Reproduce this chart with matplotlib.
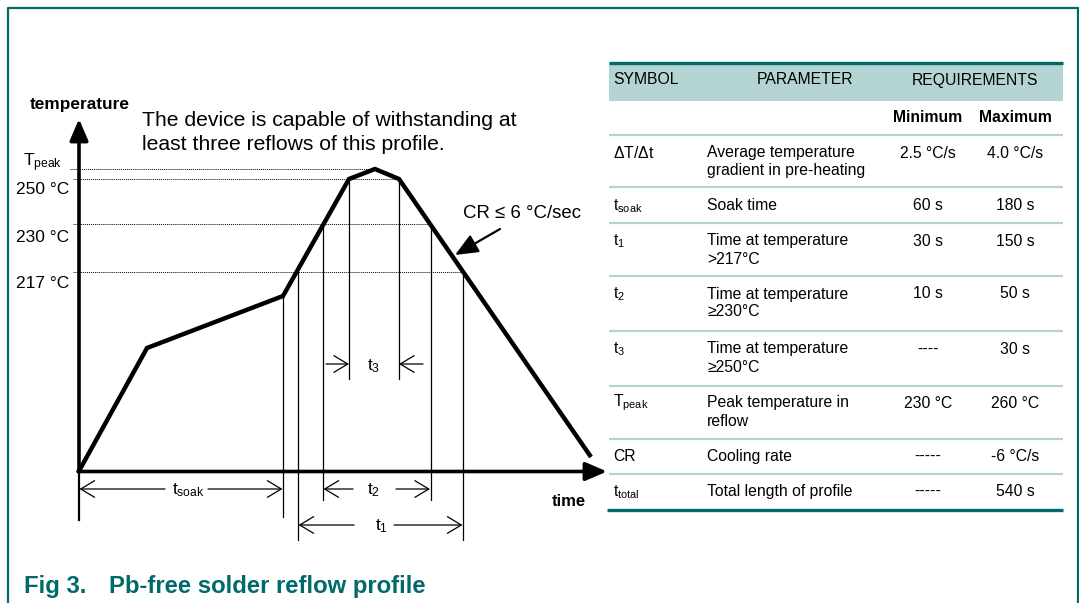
import matplotlib
matplotlib.use('Agg')
import matplotlib.pyplot as plt

plt.rcParams['font.family'] = ['Liberation Sans', 'DejaVu Sans']
plt.rcParams['mathtext.fontset'] = 'custom'
plt.rcParams['mathtext.rm'] = 'Liberation Sans'
plt.rcParams['mathtext.it'] = 'Liberation Sans'
plt.rcParams['mathtext.bf'] = 'Liberation Sans:bold'

# schematic reflow profile (diagram units, y grows downwards)
profile_x = [79, 147, 283, 349, 375, 399, 591]
profile_y = [471, 348, 296, 179, 169, 179, 457]

# temperature levels on the vertical axis
level_labels = [r'$T_{peak}$', '250 °C', '230 °C', '217 °C']
level_y = [169, 179, 224, 271.5]
level_end_x = [375, 399, 430.5, 463]
level_label_y = [163, 190, 237, 283]

# vertical marker lines: (x, top, bottom)
marker_x = [283, 298, 323, 349, 399, 430.5, 463]
marker_top = [296, 271.5, 224, 179, 179, 224, 271.5]
marker_bottom = [517, 540, 500, 379, 379, 500, 540]

# table content
table_symbols = [r'$\Delta$T/$\Delta$t', r'$t_{soak}$', r'$t_{1}$', r'$t_{2}$',
                 r'$t_{3}$', r'$T_{peak}$', 'CR', r'$t_{total}$']
table_params = ['Average temperature\ngradient in pre-heating', 'Soak time',
                'Time at temperature\n>217°C', 'Time at temperature\n≥230°C',
                'Time at temperature\n≥250°C', 'Peak temperature in\nreflow',
                'Cooling rate', 'Total length of profile']
table_min = ['2.5 °C/s', '60 s', '30 s', '10 s', '----', '230 °C', '-----', '-----']
table_max = ['4.0 °C/s', '180 s', '150 s', '50 s', '30 s', '260 °C', '-6 °C/s', '540 s']
row_y = [153, 206, 241, 294, 349, 403, 456.7, 491.7]
sep_y = [135, 187.3, 222.7, 276, 331, 385.7, 439, 474]

teal = '#006a6a'
light = '#b4d3d3'

fig = plt.figure(figsize=(10.79, 6.03), dpi=100)
ax = fig.add_axes([0, 0, 1, 1])
ax.set_xlim(0, 1079)
ax.set_ylim(603, 0)
ax.axis('off')

# frame
ax.plot([8, 8, 1077.5, 1077.5], [603, 8, 8, 603], color=teal, lw=1.6)

# axes arrows
axis_arrow = dict(arrowstyle='-|>,head_length=0.65,head_width=0.28', lw=2.6,
                  color='black', shrinkA=0, shrinkB=0, mutation_scale=20)
ax.annotate('', xy=(79, 119), xytext=(79, 472), arrowprops=axis_arrow)
ax.annotate('', xy=(607, 471.5), xytext=(78, 471.5), arrowprops=axis_arrow)
ax.plot([79, 79], [472, 520], color='black', lw=1.6)

# dotted level lines and labels
for lab, y, xe, ly in zip(level_labels, level_y, level_end_x, level_label_y):
    ax.plot([70 if y < 170 else 73, xe], [y, y], color='black', lw=0.7, ls=(0, (1, 1)))
    ax.text(69 if 'C' in lab else 62, ly, lab, fontsize=12.5, ha='right', va='center')

# marker lines
for x, t, b in zip(marker_x, marker_top, marker_bottom):
    ax.plot([x, x], [t, b], color='black', lw=0.9)

# profile
ax.plot(profile_x, profile_y, color='black', lw=3.2, solid_joinstyle='miter',
        solid_capstyle='butt')

# dimension arrows
dim = dict(arrowstyle='->,head_length=0.5,head_width=0.3', lw=0.9, color='black',
           shrinkA=0, shrinkB=0, mutation_scale=20)


def dimension(y, x0, x1, g0, g1, label, lx):
    ax.annotate('', xy=(x0, y), xytext=(g0, y), arrowprops=dim)
    ax.annotate('', xy=(x1, y), xytext=(g1, y), arrowprops=dim)
    ax.text(lx, y + 1, label, fontsize=12.5, ha='center', va='center')


dimension(489, 79.5, 282.5, 165, 208, r'$t_{soak}$', 188)
dimension(489, 323.5, 430, 353, 396, r'$t_{2}$', 373)
dimension(525, 298.5, 462.5, 354, 394, r'$t_{1}$', 381)
ax.annotate('', xy=(349, 364), xytext=(326, 364), arrowprops=dim)
ax.annotate('', xy=(399, 364), xytext=(423, 364), arrowprops=dim)
ax.text(374, 366, r'$t_{3}$', fontsize=12.5, ha='center', va='center')

# axis labels and notes
ax.text(30, 104, 'temperature', fontsize=12.4, fontweight='bold', ha='left', va='center')
ax.text(552, 502, 'time', fontsize=12, fontweight='bold', ha='left', va='center')
ax.text(142, 120, 'The device is capable of withstanding at', fontsize=15.2, ha='left', va='center')
ax.text(142, 144, 'least three reflows of this profile.', fontsize=15.2, ha='left', va='center')
ax.text(463, 214, 'CR ≤ 6 °C/sec', fontsize=13.4, ha='left', va='center')
ax.annotate('', xy=(455, 255), xytext=(500, 229),
            arrowprops=dict(arrowstyle='-|>,head_length=0.7,head_width=0.3', lw=1.6,
                            color='black', shrinkA=0, shrinkB=0, mutation_scale=20))

# caption
ax.text(24, 587, 'Fig 3.', fontsize=17.2, fontweight='bold', color=teal, ha='left', va='center')
ax.text(109, 587, 'Pb-free solder reflow profile', fontsize=17.2, fontweight='bold',
        color=teal, ha='left', va='center')

# table
ax.fill_between([609, 1063], 62.7, 100.7, color=light, lw=0)
ax.plot([609, 1063], [62.7, 62.7], color=teal, lw=2.4, solid_capstyle='butt')
ax.plot([607, 1063], [510, 510], color=teal, lw=2.4, solid_capstyle='butt')
for y in sep_y:
    ax.plot([609, 1063], [y, y], color=light, lw=1.6, solid_capstyle='butt')

fs = 11.3
ax.text(613, 80, 'SYMBOL', fontsize=fs, ha='left', va='center')
ax.text(805, 80, 'PARAMETER', fontsize=fs, ha='center', va='center')
ax.text(975, 80, 'REQUIREMENTS', fontsize=fs, ha='center', va='center')
ax.text(928, 118, 'Minimum', fontsize=fs, fontweight='bold', ha='center', va='center')
ax.text(1015, 118, 'Maximum', fontsize=fs, fontweight='bold', ha='center', va='center')

for sym, par, mn, mx, y in zip(table_symbols, table_params, table_min, table_max, row_y):
    ax.text(613, y, sym, fontsize=fs, ha='left', va='center')
    for i, line in enumerate(par.split('\n')):
        ax.text(707, y + i * 18, line, fontsize=fs, ha='left', va='center')
    ax.text(928, y, mn, fontsize=fs, ha='center', va='center')
    ax.text(1015, y, mx, fontsize=fs, ha='center', va='center')

fig.savefig('out.png', dpi=100)
